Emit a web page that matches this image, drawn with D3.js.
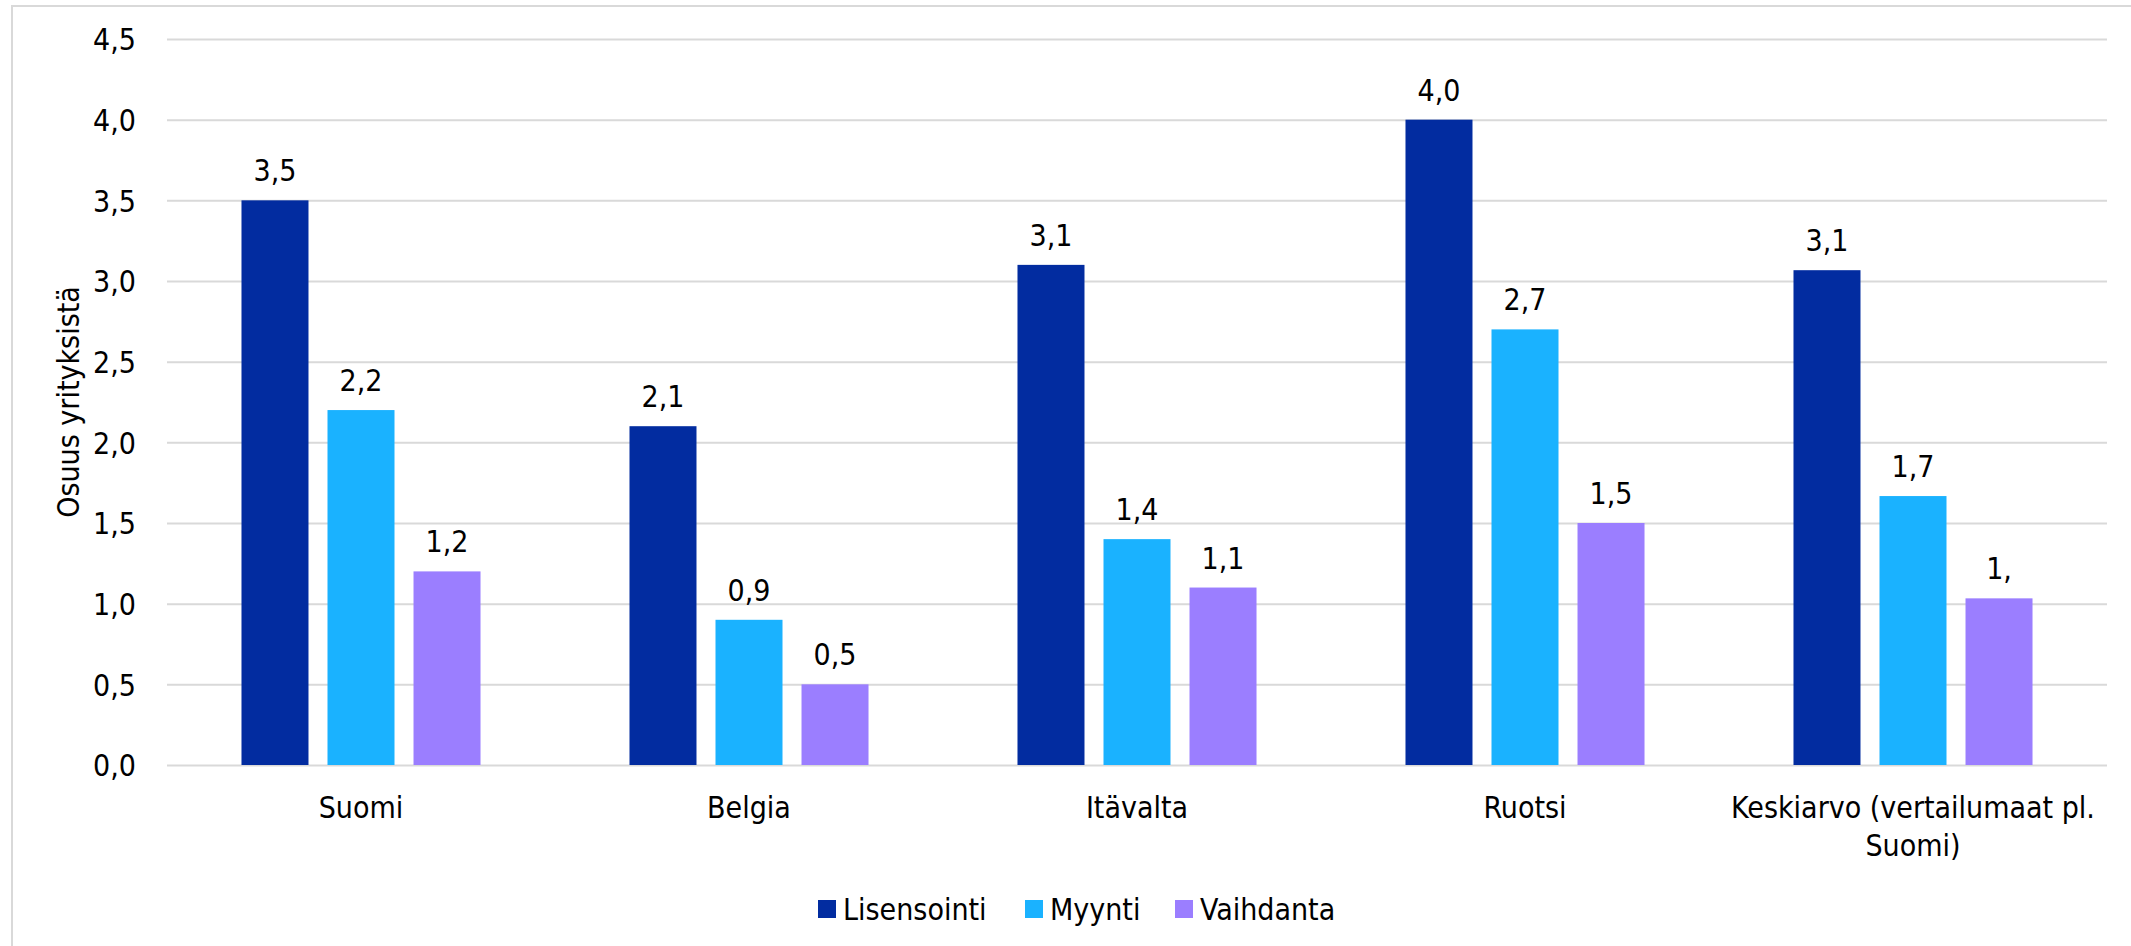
<!DOCTYPE html>
<html><head><meta charset="utf-8">
<script src="https://cdn.jsdelivr.net/npm/d3@7"></script>
<style>html,body{margin:0;padding:0;background:#fff;}svg{display:block;}</style>
</head><body>
<script>
const categories = ["Suomi", "Belgia", "Itävalta", "Ruotsi", "Keskiarvo (vertailumaat pl. Suomi)"];
const categoryLines = [["Suomi"], ["Belgia"], ["Itävalta"], ["Ruotsi"], ["Keskiarvo (vertailumaat pl.", "Suomi)"]];
const seriesNames = ["Lisensointi", "Myynti", "Vaihdanta"];
const lisensointi = [3.5, 2.1, 3.1, 4.0, 3.067];
const myynti = [2.2, 0.9, 1.4, 2.7, 1.667];
const vaihdanta = [1.2, 0.5, 1.1, 1.5, 1.033];
const lisensointiLabels = ["3,5", "2,1", "3,1", "4,0", "3,1"];
const myyntiLabels = ["2,2", "0,9", "1,4", "2,7", "1,7"];
const vaihdantaLabels = ["1,2", "0,5", "1,1", "1,5", "1,"];
const yTicks = [0, 0.5, 1.0, 1.5, 2.0, 2.5, 3.0, 3.5, 4.0, 4.5];
const yTickLabels = ["0,0", "0,5", "1,0", "1,5", "2,0", "2,5", "3,0", "3,5", "4,0", "4,5"];
const colors = ["#022CA0", "#1AB2FF", "#9B7EFF"];
const yTitle = "Osuus yrityksistä";

const seriesValues = [lisensointi, myynti, vaihdanta];
const seriesLabels = [lisensointiLabels, myyntiLabels, vaihdantaLabels];

const W = 2131, H = 946;
const FONT = "'DejaVu Sans Condensed', 'DejaVu Sans', sans-serif";
const FS = 30;
const plot = {left: 167, right: 2107, top: 39, bottom: 765};

const svg = d3.select("body").append("svg").attr("width", W).attr("height", H)
  .style("font-family", FONT);

svg.append("rect").attr("x", 0).attr("y", 0).attr("width", W).attr("height", H).attr("fill", "#fff");
svg.append("rect").attr("x", 12).attr("y", 6).attr("width", W + 20).attr("height", H + 20)
  .attr("fill", "none").attr("stroke", "#d9d9d9").attr("stroke-width", 2);

const y = d3.scaleLinear().domain([0, 4.5]).range([plot.bottom, plot.top]);
const x0 = d3.scaleBand().domain(categories).range([plot.left, plot.right]).padding(0);
const x1 = d3.scaleBand().domain(seriesNames).range([0, x0.bandwidth()])
  .paddingInner(0.221).paddingOuter(0.866);

// gridlines
const yAxis = d3.axisLeft(y).tickValues(yTicks)
  .tickFormat((d, i) => yTickLabels[i])
  .tickSize(-(plot.right - plot.left)).tickPadding(31);
const gy = svg.append("g").attr("transform", `translate(${plot.left},0)`).call(yAxis);
gy.select(".domain").remove();
gy.selectAll(".tick line").attr("stroke", "#d9d9d9").attr("stroke-width", 2);
gy.selectAll(".tick text").attr("font-size", FS).attr("fill", "#000")
  .attr("font-family", FONT).attr("dy", "0.36em");

// bars
const groups = svg.append("g").selectAll("g").data(categories).join("g")
  .attr("transform", d => `translate(${x0(d)},0)`);

seriesNames.forEach((s, si) => {
  groups.append("rect")
    .attr("x", x1(s))
    .attr("width", x1.bandwidth())
    .attr("y", (d, i) => y(seriesValues[si][i]))
    .attr("height", (d, i) => y(0) - y(seriesValues[si][i]))
    .attr("fill", colors[si]);
  groups.append("text")
    .attr("x", x1(s) + x1.bandwidth() / 2)
    .attr("y", (d, i) => y(seriesValues[si][i]) - 19)
    .attr("text-anchor", "middle")
    .attr("font-size", FS).attr("fill", "#000")
    .text((d, i) => seriesLabels[si][i]);
});

// category labels
const xAxis = d3.axisBottom(x0).tickSize(0).tickFormat("");
const gx = svg.append("g").attr("transform", `translate(0,${plot.bottom})`).call(xAxis);
gx.select(".domain").remove();
gx.selectAll(".tick").each(function(d, i) {
  const t = d3.select(this).append("text").attr("text-anchor", "middle")
    .attr("font-size", FS).attr("fill", "#000").attr("font-family", FONT);
  categoryLines[i].forEach((line, li) => {
    t.append("tspan").attr("x", 0).attr("y", 53 + li * 38).text(line);
  });
});

// y title
svg.append("text")
  .attr("transform", `translate(79,${(plot.top + plot.bottom) / 2}) rotate(-90)`)
  .attr("text-anchor", "middle").attr("font-size", FS).attr("fill", "#000")
  .text(yTitle);

// legend
const legendX = [818, 1025, 1175];
const legend = svg.append("g");
seriesNames.forEach((s, si) => {
  legend.append("rect").attr("x", legendX[si]).attr("y", 900).attr("width", 18).attr("height", 18)
    .attr("fill", colors[si]);
  legend.append("text").attr("x", legendX[si] + 25).attr("y", 920)
    .attr("font-size", FS).attr("fill", "#000").text(s);
});
</script>
</body></html>
